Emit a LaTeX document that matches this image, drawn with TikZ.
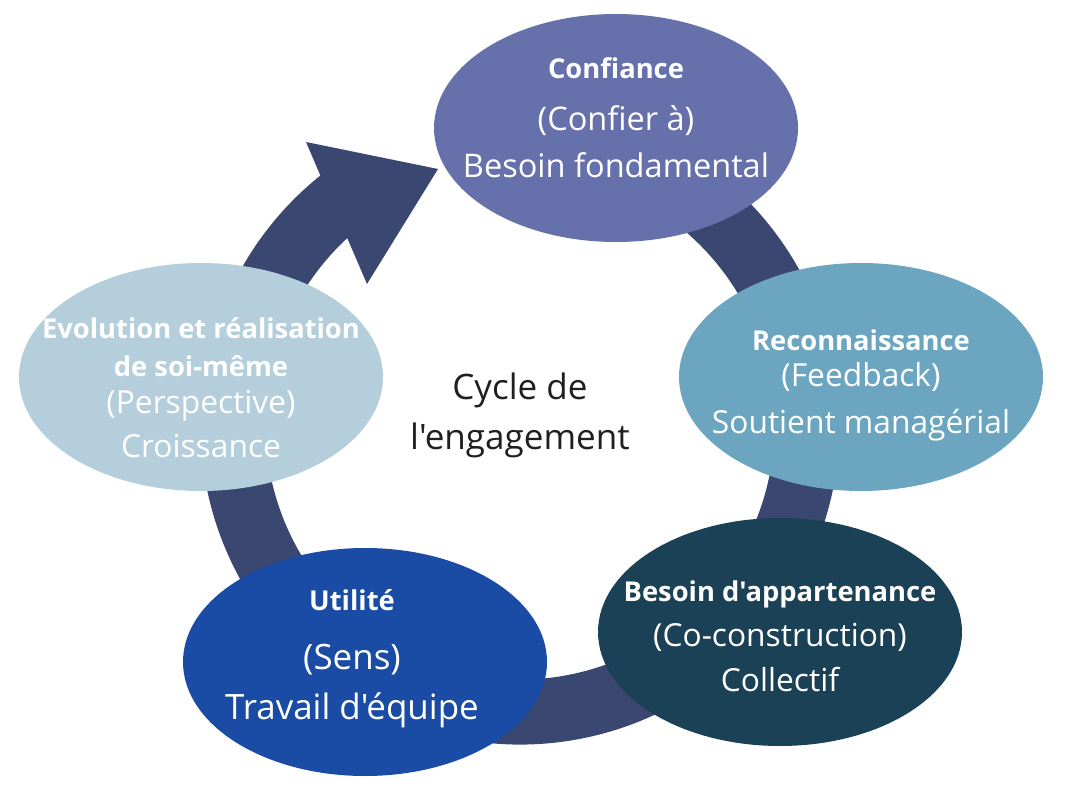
\documentclass[tikz,border=0pt]{standalone}
\usepackage{fontspec}
\newfontfamily\opensans{Open Sans}
\usepackage{xcolor}
\usepackage{tikz}
\usetikzlibrary{positioning, shapes.geometric}
\definecolor{ringBlue}{HTML}{3A4770}
\definecolor{confPurple}{HTML}{6670AA}
\definecolor{recoBlue}{HTML}{6CA5C0}
\definecolor{besoinDark}{HTML}{1B4157}
\definecolor{utilBlue}{HTML}{1B4CA5}
\definecolor{evoPale}{HTML}{B4CEDB}
\definecolor{cycleText}{HTML}{1F1F1F}
\newcommand{\titre}[1]{{\fontsize{20.5}{24}\selectfont\bfseries #1}}
% texte centre dans la bulle, sans toucher a sa taille
\newcommand{\bulle}[2][0pt]{\makebox[0pt]{\raisebox{#1}[0pt][0pt]{%
  \begin{tabular}{@{}c@{}}#2\end{tabular}}}}

\begin{document}
\begin{tikzpicture}[x=0.75pt, y=-0.75pt,
    bubble/.style={ellipse, inner sep=0pt, minimum width=273pt, minimum height=171pt,
      text=white, font=\opensans\fontsize{23.8}{34}\selectfont},
    ring/.style={line width=48.75pt, ringBlue}]
  \useasboundingbox (0,0) rectangle (1072,788);
  \coordinate (ctr) at (520,425);
  % anneau du cycle et sa pointe
  \draw[ring] ([shift={(-70:287)}]ctr) arc[start angle=-70, end angle=235, radius=287];
  \coordinate (headA) at (306,142);
  \coordinate (headTip) at (438,169);
  \coordinate (headB) at (367,284);
  \fill[ringBlue] (headA) -- (headTip) -- (headB) -- cycle;
  % les cinq besoins
  \node[bubble, fill=confPurple, font=\opensans\fontsize{24.4}{34}\selectfont] (conf) at (616,128)
    {\bulle[0.5pt]{\titre{Confiance}\\[5pt] (Confier à)\\[1pt] Besoin fondamental}};
  \node[bubble, fill=recoBlue] (reco) at (861,377)
    {\bulle[-10.7pt]{\titre{Reconnaissance}\\[-7pt] (Feedback)\\[1pt] Soutient managérial}};
  \node[bubble, fill=besoinDark] (besoin) at (780,632)
    {\bulle[-10.3pt]{\titre{Besoin d'appartenance}\\ (Co-construction)\\ Collectif}};
  \node[bubble, fill=utilBlue, font=\opensans\fontsize{26.2}{34}\selectfont] (util) at (365,662)
    {\kern-9.75pt\bulle[-1.5pt]{\titre{Utilité}\\[10pt] (Sens)\\[3.5pt] Travail d'équipe}\kern9.75pt};
  \node[bubble, fill=evoPale] (evo) at (201,377)
    {\bulle[-15.4pt]{\titre{Evolution et réalisation}\\[-5.5pt] \titre{de soi-même}\\[-6pt]
      (Perspective)\\[-1pt] Croissance}};
  \node[align=center, text=cycleText, font=\opensans\fontsize{26.3}{37.5}\selectfont] (cycle) at (520,415)
    {Cycle de\\ l'engagement};
\end{tikzpicture}
\end{document}
